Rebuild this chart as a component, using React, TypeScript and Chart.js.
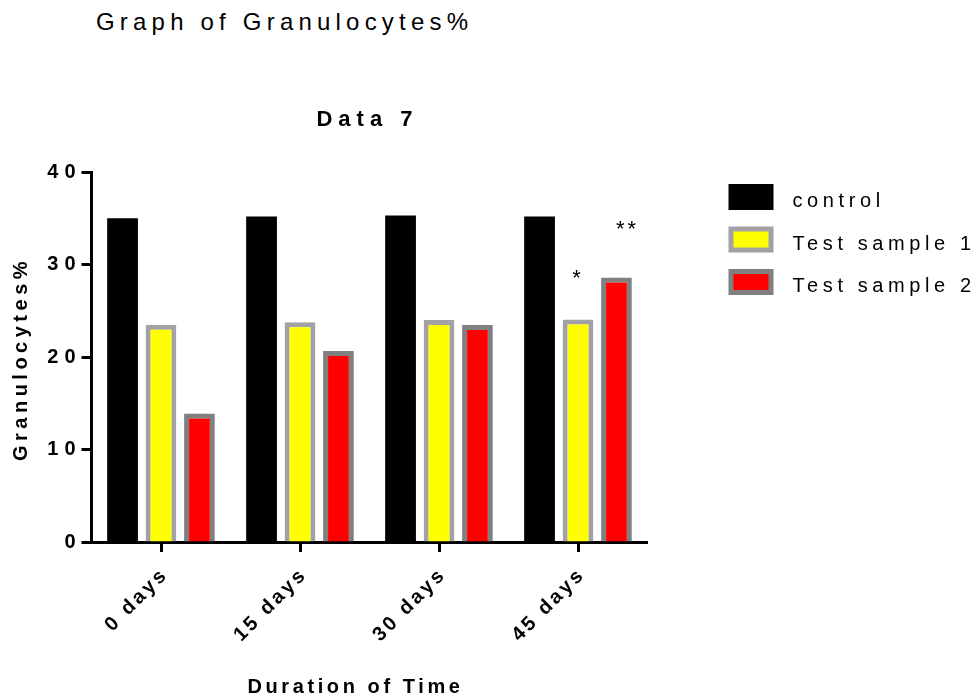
import React, { useEffect, useRef } from 'react';
import { Chart, registerables } from 'chart.js';

Chart.register(...registerables);

const categories = ['0 days', '15 days', '30 days', '45 days'];
const seriesNames = ['control', 'Test sample 1', 'Test sample 2'];
const controlValues = [35.0, 35.2, 35.3, 35.2];
const testSample1Values = [23.5, 23.75, 24.0, 24.05];
const testSample2Values = [13.9, 20.65, 23.45, 28.6];
const yMin = 0;
const yMax = 40;
const yStep = 10;
const pageTitle = 'Graph of Granulocytes%';
const chartTitle = 'Data 7';
const xTitle = 'Duration of Time';
const yTitle = 'Granulocytes%';
const sigMarks = [
  { series: 1, index: 3, label: '*' },
  { series: 2, index: 3, label: '**' },
];

// styles (not data)
const FONT = "'Liberation Sans', Arial, Helvetica, sans-serif";
const TICK_SPACING = '3px';
const Y_TICK_SPACING = '6px';
const X_TITLE_SPACING = '3.6px';
const Y_TITLE_SPACING = '4.5px';
const CHART_TITLE_SPACING = '6px';
const SIG_STYLE = [
  { dx: 0, dy: 35 },
  { dx: 11, dy: 41 },
];

function wrapSpacing(obj: any, method: string, spacing: string, dx = 0, dy = 0) {
  if (!obj || obj['__wrapped_' + method]) return;
  const orig = obj[method];
  obj[method] = function (...args: any[]) {
    const c = this.ctx;
    c.save();
    c.letterSpacing = spacing;
    c.translate(dx, dy);
    const r = orig.apply(this, args);
    c.restore();
    return r;
  };
  obj['__wrapped_' + method] = true;
}

const decorPlugin = {
  id: 'decor',
  beforeLayout(chart: any) {
    chart.ctx.letterSpacing = TICK_SPACING;
  },
  beforeDraw(chart: any) {
    chart.ctx.letterSpacing = TICK_SPACING;
    wrapSpacing(chart.titleBlock, 'draw', CHART_TITLE_SPACING, -2, 0);
    wrapSpacing(chart.scales.x, 'drawTitle', X_TITLE_SPACING, -14, 0);
    wrapSpacing(chart.scales.y, 'drawTitle', Y_TITLE_SPACING, 0, 2);
    wrapSpacing(chart.scales.y, 'drawLabels', Y_TICK_SPACING, 0, 0);
  },
  afterDatasetsDraw(chart: any) {
    const ctx = chart.ctx;
    ctx.save();
    ctx.letterSpacing = '3px';
    ctx.font = `22px ${FONT}`;
    ctx.fillStyle = '#000';
    ctx.textAlign = 'center';
    ctx.textBaseline = 'alphabetic';
    sigMarks.forEach((m, i) => {
      const el = chart.getDatasetMeta(m.series).data[m.index];
      if (!el) return;
      const st = SIG_STYLE[i];
      ctx.fillText(m.label, el.x + st.dx, el.y - st.dy);
    });
    ctx.restore();
  },
  afterDraw(chart: any) {
    const ctx = chart.ctx;
    const area = chart.chartArea;
    const left = area.right + 81;
    const top0 = area.top + 12;
    const rowH = 42.5;
    const bw = 45;
    const bh = 26;
    ctx.save();
    ctx.letterSpacing = '4.6px';
    ctx.font = `20px ${FONT}`;
    ctx.fillStyle = '#000';
    ctx.textAlign = 'left';
    ctx.textBaseline = 'alphabetic';
    chart.data.datasets.forEach((ds: any, i: number) => {
      const y = top0 + i * rowH;
      const b = ds.borderWidth || 0;
      if (b > 0) {
        ctx.fillStyle = ds.borderColor;
        ctx.fillRect(left, y, bw, bh);
        ctx.fillStyle = ds.backgroundColor;
        ctx.fillRect(left + b, y + b, bw - 2 * b, bh - 2 * b);
      } else {
        ctx.fillStyle = ds.backgroundColor;
        ctx.fillRect(left, y, bw, bh);
      }
      ctx.fillStyle = '#000';
      ctx.fillText(ds.label, left + 64, y + bh / 2 + 10);
    });
    ctx.restore();
  },
};

export default function App() {
  const ref = useRef<HTMLCanvasElement | null>(null);

  useEffect(() => {
    const canvas = ref.current;
    if (!canvas) return;
    const chart = new Chart(canvas, {
      type: 'bar',
      data: {
        labels: categories,
        datasets: [
          {
            label: seriesNames[0],
            data: controlValues,
            backgroundColor: '#000000',
            borderColor: '#000000',
            borderWidth: 0,
          },
          {
            label: seriesNames[1],
            data: testSample1Values,
            backgroundColor: '#FFFF00',
            borderColor: '#A2A2A6',
            borderWidth: 5,
            borderSkipped: 'start',
          },
          {
            label: seriesNames[2],
            data: testSample2Values,
            backgroundColor: '#FF0000',
            borderColor: '#808080',
            borderWidth: 5,
            borderSkipped: 'start',
          },
        ],
      },
      options: {
        animation: false,
        responsive: false,
        maintainAspectRatio: false,
        layout: { padding: { left: 0, right: 329.5, top: 101, bottom: 0 } },
        datasets: {
          bar: { categoryPercentage: 0.83, barPercentage: 0.8 },
        },
        plugins: {
          legend: { display: false },
          tooltip: { enabled: false },
          title: {
            display: true,
            text: chartTitle,
            fullSize: false,
            color: '#000',
            font: { family: FONT, size: 22, weight: 'bold' },
            padding: { top: 6, bottom: 38.6 },
          },
        },
        scales: {
          x: {
            offset: true,
            grid: {
              display: true,
              drawOnChartArea: false,
              drawTicks: true,
              tickLength: 10,
              tickWidth: 3,
              tickColor: '#000',
              offset: false,
            },
            border: { display: true, width: 3, color: '#000' },
            ticks: {
              autoSkip: false,
              maxRotation: 45,
              minRotation: 45,
              color: '#000',
              padding: 11,
              labelOffset: 4,
              font: { family: FONT, size: 20, weight: 'bold' },
            },
            title: {
              display: true,
              text: xTitle,
              color: '#000',
              font: { family: FONT, size: 20, weight: 'bold' },
              padding: { top: 0, bottom: 0 },
            },
            afterFit: (s: any) => {
              s.height = 157;
            },
          },
          y: {
            min: yMin,
            max: yMax,
            grid: {
              display: true,
              drawOnChartArea: false,
              drawTicks: true,
              tickLength: 10,
              tickWidth: 3,
              tickColor: '#000',
            },
            border: { display: true, width: 3, color: '#000' },
            ticks: {
              stepSize: yStep,
              color: '#000',
              padding: 0,
              font: { family: FONT, size: 20, weight: 'bold' },
            },
            title: {
              display: true,
              text: yTitle,
              color: '#000',
              font: { family: FONT, size: 20, weight: 'bold' },
              padding: { top: 9, bottom: 0 },
            },
            afterFit: (s: any) => {
              s.width = 91.5;
            },
          },
        },
      },
      plugins: [decorPlugin],
    });
    return () => chart.destroy();
  }, []);

  return (
    <div style={{ position: 'absolute', left: 0, top: 0, width: 977, height: 699, background: '#fff' }}>
      <div
        style={{
          position: 'absolute',
          left: 96,
          top: 8,
          fontFamily: FONT,
          fontSize: 24,
          lineHeight: '28px',
          letterSpacing: '5.2px',
          color: '#000',
          whiteSpace: 'nowrap',
        }}
      >
        {pageTitle}
      </div>
      <canvas
        ref={ref}
        width={977}
        height={699}
        style={{ position: 'absolute', left: 0, top: 0, width: 977, height: 699 }}
      />
    </div>
  );
}
